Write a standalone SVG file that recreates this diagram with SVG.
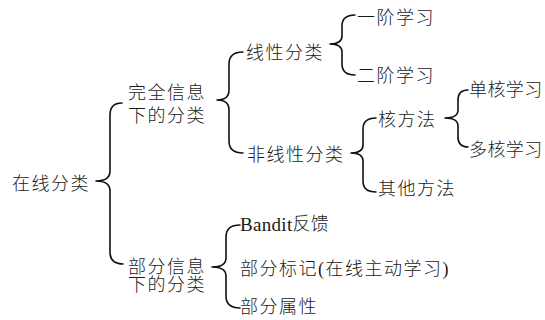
<svg xmlns="http://www.w3.org/2000/svg" width="545" height="320" viewBox="0 0 545 320">
<style>
text{font-family:"Liberation Serif","Noto Sans CJK SC",serif;font-size:18px;font-weight:300;fill:#1a1a1a;letter-spacing:1.5px;dominant-baseline:central}
.lat{letter-spacing:0.3px}
.edge{letter-spacing:0.4px}
.tm{font-family:"Liberation Serif","Times New Roman",serif;font-weight:400}
.br{fill:none;stroke:#111;stroke-width:1.6;stroke-linecap:round;stroke-linejoin:round}
</style>
<rect width="545" height="320" fill="#fff"/>
<g id="connectors">
<path class="br" d="M122,103 Q110,103 110,115 L110,171 Q110,181 96,181 Q110,181 110,191 L110,252 Q110,264 123,264"/>
<path class="br" d="M243,52 Q229,52 229,64 L229,90 Q229,100 217,100 Q229,100 229,110 L229,141 Q229,153 243,153"/>
<path class="br" d="M355,15 Q342,15 342,26 L342,36 Q342,44 330,44 Q342,44 342,52 L342,64 Q342,75 355,75"/>
<path class="br" d="M376,118 Q363,118 363,129 L363,145 Q363,153 351,153 Q363,153 363,161 L363,181 Q363,192 376,192"/>
<path class="br" d="M468,90 Q458,90 458,100 L458,110 Q458,118 445,118 Q458,118 458,126 L458,137 Q458,147 468,147"/>
<path class="br" d="M240,225 Q226,225 226,237 L226,258 Q226,267 212,267 Q226,267 226,276 L226,296 Q226,308 240,308"/>
</g>
<g id="n-root"><text x="12" y="183.5">在线分类</text></g>
<g id="n-full"><text x="128" y="92.5">完全信息</text><text x="128" y="115.5">下的分类</text></g>
<g id="n-linear"><text x="246" y="53">线性分类</text></g>
<g id="n-nonlinear"><text x="247" y="154.5">非线性分类</text></g>
<g id="n-first"><text x="357" y="18">一阶学习</text></g>
<g id="n-second"><text x="357" y="76">二阶学习</text></g>
<g id="n-kernel"><text x="378" y="120">核方法</text></g>
<g id="n-other"><text x="378" y="189">其他方法</text></g>
<g id="n-single"><text class="edge" x="469" y="90">单核学习</text></g>
<g id="n-multi"><text class="edge" x="469" y="150">多核学习</text></g>
<g id="n-partial"><text x="128" y="266.5">部分信息</text><text x="128" y="285">下的分类</text></g>
<g id="n-bandit"><text class="lat" x="240" y="224"><tspan class="tm" font-size="19">Bandit</tspan>反馈</text></g>
<g id="n-label"><text x="240" y="269">部分标记<tspan class="tm">(</tspan>在线主动学习<tspan class="tm">)</tspan></text></g>
<g id="n-attr"><text x="240" y="307">部分属性</text></g>
</svg>
